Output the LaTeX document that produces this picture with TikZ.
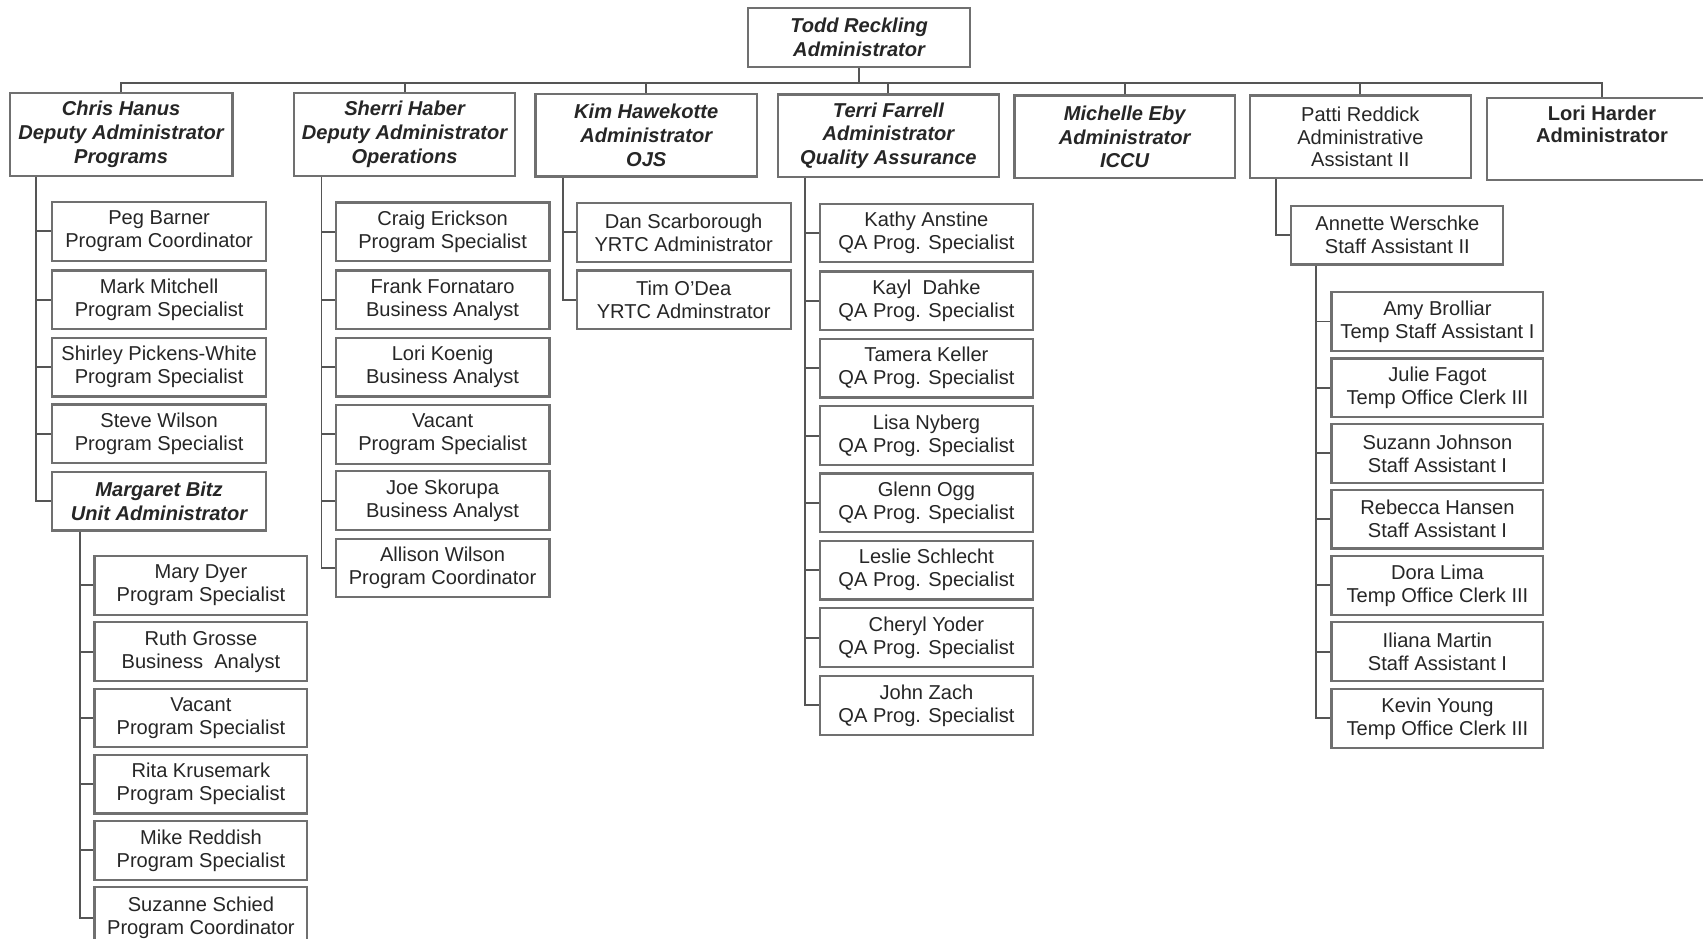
\documentclass[tikz,border=0pt]{standalone}
\usepackage{fontspec}
\setmainfont{Liberation Sans}
\newcommand\chartfont{\fontsize{18.5}{21}\selectfont}
\newcommand\headfont{\fontsize{18.5}{22}\selectfont\bfseries\itshape}
\definecolor{boxgray}{HTML}{707070}
\definecolor{linegray}{HTML}{555555}
\definecolor{textgray}{HTML}{262626}
\tikzset{
  box/.style={draw=boxgray, line width=2pt, inner sep=0pt, align=center, text=textgray},
  head/.style={box, minimum height=76pt, font=\headfont},
  kid/.style={box, minimum width=197pt, minimum height=54pt, font=\chartfont},
  link/.style={draw=linegray, line width=1.8pt}
}
\begin{document}
\begin{tikzpicture}[x=1pt,y=-1pt]
\useasboundingbox (0,0) rectangle (1568,864);
% top
\node[box, font=\headfont, minimum width=204pt, minimum height=55pt] (todd) at (791,34.5) {Todd Reckling\\Administrator};
% heads
\node[head, minimum width=205pt] (chris) at (111.5,124) {Chris Hanus\\Deputy Administrator\\Programs};
\node[head, minimum width=203pt] (sherri) at (372.5,124) {Sherri Haber\\Deputy Administrator\\Operations};
\node[head, minimum width=204pt] (kim) at (595,124.5) {Kim Hawekotte\\Administrator\\OJS};
\node[head, minimum width=204pt] (terri) at (818,125) {Terri Farrell\\Administrator\\Quality Assurance};
\node[head, minimum width=203pt] (michelle) at (1035.5,126) {Michelle Eby\\Administrator\\ICCU};
\node[head, minimum width=203pt, font=\chartfont] (patti) at (1252.5,126) {Patti Reddick\\Administrative\\Assistant II};
\node[head, minimum width=212pt, font=\chartfont\bfseries] (lori) at (1475,128) {Lori Harder\\Administrator\\\strut};
% bus
\coordinate (bus) at (0,76);
\draw[link] (todd.south) -- (todd.south |- bus);
\draw[link] (chris.north) -- (chris.north |- bus) -- (lori.north |- bus) -- (lori.north);
\foreach \n in {sherri,kim,terri,michelle,patti}{\draw[link] (\n.north) -- (\n.north |- bus);}
% Chris column
\node[kid] (peg) at (146.5,213) {Peg Barner\\Program Coordinator};
\node[kid] (mark) at (146.5,276) {Mark Mitchell\\Program Specialist};
\node[kid] (shirley) at (146.5,338) {Shirley Pickens-White\\Program Specialist};
\node[kid] (steve) at (146.5,399.5) {Steve Wilson\\Program Specialist};
\node[kid, font=\headfont] (margaret) at (146.5,461.5) {Margaret Bitz\\Unit Administrator};
\coordinate (chrisline) at (33,0);
\draw[link] (chris.south -| chrisline) |- (margaret.west);
\foreach \n in {peg,mark,shirley,steve}{\draw[link] (\n.west -| chrisline) -- (\n.west);}
% Margaret column
\node[kid, minimum width=196pt] (mary) at (185,539) {Mary Dyer\\Program Specialist};
\node[kid, minimum width=196pt] (ruth) at (185,600) {Ruth Grosse\\Business\ \ Analyst};
\node[kid, minimum width=196pt] (vacanta) at (185,661) {Vacant\\Program Specialist};
\node[kid, minimum width=196pt] (rita) at (185,722) {Rita Krusemark\\Program Specialist};
\node[kid, minimum width=196pt] (mike) at (185,783) {Mike Reddish\\Program Specialist};
\node[kid, minimum width=196pt, minimum height=56pt] (suzanne) at (185,845) {Suzanne Schied\\Program Coordinator};
\coordinate (margline) at (74,0);
\draw[link] (margaret.south -| margline) |- (suzanne.west);
\foreach \n in {mary,ruth,vacanta,rita,mike}{\draw[link] (\n.west -| margline) -- (\n.west);}
% Sherri column
\node[kid] (craig) at (407.5,213.5) {Craig Erickson\\Program Specialist};
\node[kid] (frank) at (407.5,276) {Frank Fornataro\\Business Analyst};
\node[kid] (koenig) at (407.5,338) {Lori Koenig\\Business Analyst};
\node[kid] (vacantb) at (407.5,400) {Vacant\\Program Specialist};
\node[kid] (joe) at (407.5,461) {Joe Skorupa\\Business Analyst};
\node[kid] (allison) at (407.5,523) {Allison Wilson\\Program Coordinator};
\coordinate (sherriline) at (296,0);
\draw[link] (sherri.south -| sherriline) |- (allison.west);
\foreach \n in {craig,frank,koenig,vacantb,joe}{\draw[link] (\n.west -| sherriline) -- (\n.west);}
% Kim column
\node[kid] (dan) at (629.5,214) {Dan Scarborough\\YRTC Administrator};
\node[kid] (tim) at (629.5,276) {Tim O'Dea\\YRTC Adminstrator};
\coordinate (kimline) at (518,0);
\draw[link] (kim.south -| kimline) |- (tim.west);
\draw[link] (dan.west -| kimline) -- (dan.west);
% Terri column
\node[kid, minimum width=196pt] (kathy) at (853,214.5) {Kathy Anstine\\QA Prog. Specialist};
\node[kid, minimum width=196pt] (kayl) at (853,277) {Kayl\ \ Dahke\\QA Prog. Specialist};
\node[kid, minimum width=196pt] (tamera) at (853,339) {Tamera Keller\\QA Prog. Specialist};
\node[kid, minimum width=196pt] (lisa) at (853,401) {Lisa Nyberg\\QA Prog. Specialist};
\node[kid, minimum width=196pt] (glenn) at (853,463) {Glenn Ogg\\QA Prog. Specialist};
\node[kid, minimum width=196pt] (leslie) at (853,525) {Leslie Schlecht\\QA Prog. Specialist};
\node[kid, minimum width=196pt] (cheryl) at (853,587) {Cheryl Yoder\\QA Prog. Specialist};
\node[kid, minimum width=196pt] (john) at (853,649.5) {John Zach\\QA Prog. Specialist};
\coordinate (terriline) at (741,0);
\draw[link] (terri.south -| terriline) |- (john.west);
\foreach \n in {kathy,kayl,tamera,lisa,glenn,leslie,cheryl}{\draw[link] (\n.west -| terriline) -- (\n.west);}
% Patti column
\node[kid, minimum width=195pt] (annette) at (1286.5,216.5) {Annette Werschke\\Staff Assistant II};
\coordinate (pattiline) at (1175,0);
\draw[link] (patti.south -| pattiline) |- (annette.west);
\node[kid, minimum width=195pt] (amy) at (1323.5,296) {Amy Brolliar\\Temp Staff Assistant I};
\node[kid, minimum width=195pt] (julie) at (1323.5,357) {Julie Fagot\\Temp Office Clerk III};
\node[kid, minimum width=195pt] (suzann) at (1323.5,417.5) {Suzann Johnson\\Staff Assistant I};
\node[kid, minimum width=195pt] (rebecca) at (1323.5,478) {Rebecca Hansen\\Staff Assistant I};
\node[kid, minimum width=195pt] (dora) at (1323.5,539) {Dora Lima\\Temp Office Clerk III};
\node[kid, minimum width=195pt] (iliana) at (1323.5,600) {Iliana Martin\\Staff Assistant I};
\node[kid, minimum width=195pt] (kevin) at (1323.5,661.5) {Kevin Young\\Temp Office Clerk III};
\coordinate (annline) at (1212,0);
\draw[link] (annette.south -| annline) |- (kevin.west);
\foreach \n in {amy,julie,suzann,rebecca,dora,iliana}{\draw[link] (\n.west -| annline) -- (\n.west);}
\end{tikzpicture}
\end{document}
